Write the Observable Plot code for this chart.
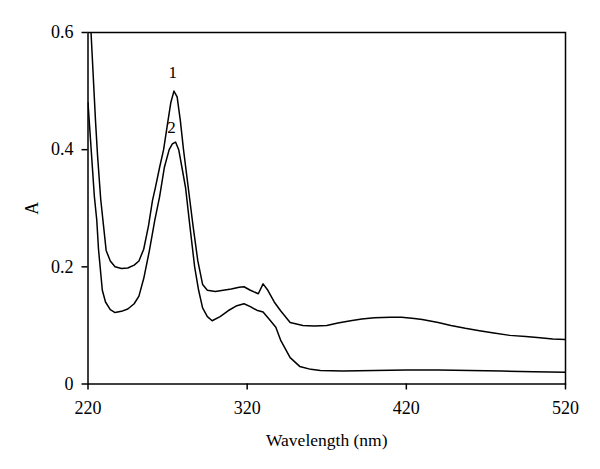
<!DOCTYPE html>
<html>
<head>
<meta charset="utf-8">
<script src="https://cdn.jsdelivr.net/npm/d3@7"></script>
<script src="https://cdn.jsdelivr.net/npm/@observablehq/plot@0.6"></script>
<style>
  html, body { margin: 0; padding: 0; background: #fff; }
  #chart svg { display: block; font-family: "Liberation Serif", "DejaVu Serif", serif; }
</style>
</head>
<body>
<div id="chart"></div>
<script>
// Curve 1 (upper spectrum)
const wl1 = [220,222,224.7,226,228,231.4,234,237,241,245,249,252,255,258,260.5,262.4,265,267.5,270,272,274,276,278,280,283,286,289,292,295,300,305,310,315,318,322,327,330,333,337,341,347,355,362,370,377,385,392,400,410,417,425,430,440,448,457,466,475,485,495,504,512,520];
const a1  = [0.70,0.595,0.45,0.39,0.315,0.228,0.21,0.20,0.197,0.198,0.203,0.21,0.23,0.27,0.313,0.336,0.37,0.40,0.445,0.48,0.50,0.49,0.45,0.40,0.335,0.27,0.21,0.17,0.16,0.158,0.16,0.162,0.165,0.166,0.16,0.154,0.171,0.16,0.14,0.125,0.105,0.10,0.099,0.10,0.104,0.108,0.111,0.113,0.114,0.114,0.112,0.11,0.105,0.10,0.095,0.091,0.087,0.083,0.081,0.079,0.077,0.076];
// Curve 2 (lower spectrum)
const wl2 = [220,221,222.5,224,225.5,226.6,229,231,234,237,241,245,249,252,255,258.6,262,265,268,271,273,275,277,279,281.3,284,287,289.5,292,295,298,303,308,313,318,322,326,330,334,338,341,344,347,353,360,366,380,400,420,440,460,480,500,520];
const a2  = [0.48,0.44,0.38,0.32,0.28,0.23,0.16,0.14,0.127,0.122,0.124,0.128,0.137,0.15,0.18,0.228,0.28,0.32,0.37,0.40,0.41,0.413,0.40,0.37,0.335,0.27,0.20,0.16,0.13,0.115,0.108,0.115,0.125,0.133,0.137,0.132,0.126,0.123,0.11,0.097,0.075,0.06,0.045,0.03,0.025,0.023,0.022,0.023,0.024,0.024,0.023,0.022,0.021,0.02];

const xTicks = [220,320,420,520];
const yTicks = [0,0.2,0.4,0.6];
const labels = ["1","2"];
const labelX = [273.2,272.5];
const labelY = [0.532,0.438];

const s1 = wl1.map((w,i)=>({w, a:a1[i]}));
const s2 = wl2.map((w,i)=>({w, a:a2[i]}));
const lab = labels.map((t,i)=>({t, w:labelX[i], a:labelY[i]}));

const chart = Plot.plot({
  width: 600,
  height: 469,
  marginLeft: 87.5,
  marginRight: 35,
  marginTop: 32,
  marginBottom: 85.5,
  style: {fontFamily: "'Liberation Serif', 'DejaVu Serif', serif", fontSize: "17.5px", color: "#000", background: "#fff"},
  x: {domain: [220,520]},
  y: {domain: [0,0.6]},
  marks: [
    Plot.axisX({ticks: xTicks, tickSize: 6, tickPadding: 11, tickFormat: d => String(d), fontSize: 18,
      label: null, strokeWidth: 1.5}),
    Plot.axisY({ticks: yTicks, tickSize: 6, tickPadding: 8.5, tickFormat: d => d === 0 ? "0" : d.toFixed(1), fontSize: 18,
      label: null, strokeWidth: 1.5}),
    Plot.axisX({ticks: [], tickSize: 0, label: "Wavelength (nm)", labelAnchor: "center", labelArrow: "none", labelOffset: 62, fontSize: 17.5}),
    Plot.axisY({ticks: [], tickSize: 0, label: "A", labelAnchor: "center", labelArrow: "none", labelOffset: 63, fontSize: 18}),
    Plot.line(s1, {x: "w", y: "a", stroke: "#000", strokeWidth: 1.5, clip: true}),
    Plot.line(s2, {x: "w", y: "a", stroke: "#000", strokeWidth: 1.5, clip: true}),
    Plot.text(lab, {x: "w", y: "a", text: "t", fontSize: 17, fill: "#000"}),
    Plot.frame({stroke: "#000", strokeWidth: 1.5})
  ]
});
document.getElementById("chart").appendChild(chart);
</script>
</body>
</html>
